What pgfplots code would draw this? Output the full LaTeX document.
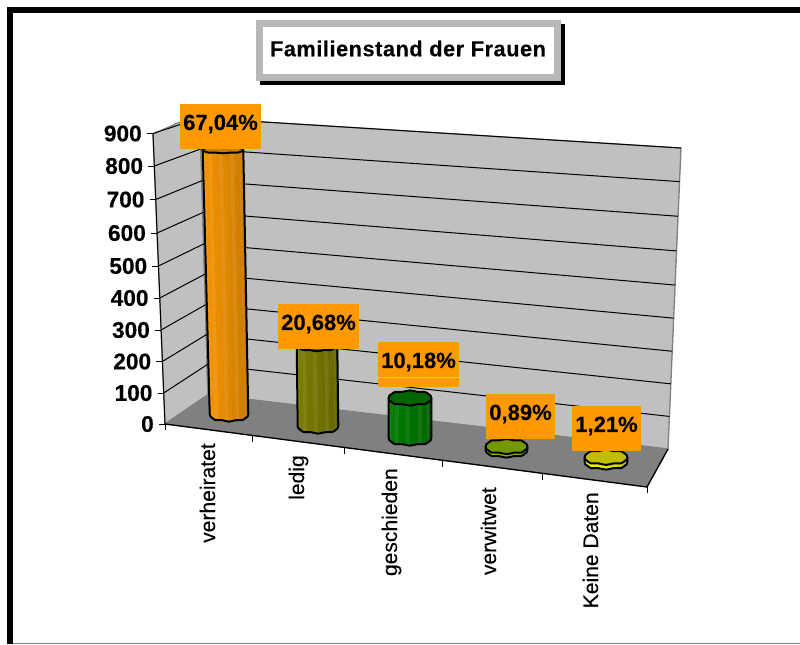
\documentclass[border=0pt]{standalone}
\usepackage{fontspec}
\setmainfont{Liberation Sans}
\usepackage{pgfplots}
\pgfplotsset{compat=1.18}
\definecolor{wall}{HTML}{C0C0C0}
\definecolor{floorc}{HTML}{808080}
\definecolor{lab}{HTML}{FF9900}
\definecolor{titleg}{HTML}{B8B8B8}
\definecolor{side1}{HTML}{FF9900}\definecolor{top1}{HTML}{CC7A00}
\definecolor{side2}{HTML}{808000}\definecolor{top2}{HTML}{666600}
\definecolor{side3}{HTML}{008000}\definecolor{top3}{HTML}{006600}
\definecolor{side4}{HTML}{99CC00}\definecolor{top4}{HTML}{739900}
\definecolor{side5}{HTML}{FFFF00}\definecolor{top5}{HTML}{BFBF00}
% one pixel = 0.75pt; the axis runs in pixel coordinates of the reference
\newcommand\ptop[1]{%
  \pgfmathsetmacro\px{\cxt+\rxt*cos(#1)*(1+0.015*cos(8*(#1)))}%
  \pgfmathsetmacro\py{\yt+\hgt*sin(#1)/pow(abs(sin(#1))+0.001,0.35)*(1+0.09*cos(8*(#1)))}}
\newcommand\pbot[1]{%
  \pgfmathsetmacro\px{\cxb+\rxb*cos(#1)*(1+0.015*cos(8*(#1)))}%
  \pgfmathsetmacro\py{\yb+\hgb*sin(#1)/pow(abs(sin(#1))+0.001,0.35)*(1+0.09*cos(8*(#1)))}}
% value, bottom left x, bottom right x, bottom centre y, bottom half height,
% top left x, top right x, top half height, colour index
\newcommand\cyl[9]{%
  \pgfmathsetmacro\cxb{(#2+#3)/2}\pgfmathsetmacro\rxb{(#3-#2)/2}%
  \pgfmathsetmacro\cxt{(#6+#7)/2}\pgfmathsetmacro\rxt{(#7-#6)/2}%
  \def\yb{#4}\def\hgb{#5}\def\hgt{#8}%
  \pgfmathsetmacro\yt{#4-0.315*#1}%
  \pgfplotsforeachungrouped \i in {0,...,15}{%
    \pgfmathsetmacro\anga{180-11.25*\i}\pgfmathsetmacro\angb{\anga-11.25}%
    \pgfmathtruncatemacro\pc{100-22*\i/15}%
    \pgfmathtruncatemacro\wh{100-7*(mod(\i,3)==1)}%
    \def\cl{}%
    \ptop{\anga}\edef\cl{\cl(\px,\py)}\ptop{\angb}\edef\cl{\cl(\px,\py)}%
    \pbot{\angb}\edef\cl{\cl(\px,\py)}\pbot{\anga}\edef\cl{\cl(\px,\py)}%
    \edef\tmp{\noexpand\addplot[fill=side#9!\pc!black!\wh!white,draw=side#9!\pc!black!\wh!white,line width=0.2pt] coordinates {\cl} -- cycle;}\tmp
  }%
  \def\cl{}%
  \ptop{180}\edef\cl{\cl(\px,\py)}%
  \pgfplotsforeachungrouped \i in {0,...,16}{%
    \pgfmathsetmacro\anga{180-11.25*\i}\pbot{\anga}\edef\cl{\cl(\px,\py)}}%
  \ptop{0}\edef\cl{\cl(\px,\py)}%
  \edef\tmp{\noexpand\addplot[draw=black,line width=1.5pt,line join=round] coordinates {\cl};}\tmp
  \def\cl{}%
  \pgfplotsforeachungrouped \i in {0,...,31}{%
    \pgfmathsetmacro\anga{11.25*\i}\ptop{\anga}\edef\cl{\cl(\px,\py)}}%
  \edef\tmp{\noexpand\addplot[fill=top#9,draw=black,line width=1.5pt,line join=round] coordinates {\cl} -- cycle;}\tmp
}
% gridline and tick on the left front edge at pixel height #1, label #2
\newcommand\gl[2]{%
  \pgfmathsetmacro\f{(424.5-#1)/291}%
  \pgfmathsetmacro\xa{165-12*\f}\pgfmathsetmacro\xt{\xa-6}\pgfmathsetmacro\xl{\xa-11}%
  \pgfmathsetmacro\xb{208-8*\f}\pgfmathsetmacro\yc{394.6-276.6*\f}%
  \pgfmathsetmacro\xc{668+13*\f}\pgfmathsetmacro\yd{449-301*\f}%
  \edef\tmp{\noexpand\addplot[draw=black,line width=0.75pt] coordinates {(\xa,#1)(\xb,\yc)(\xc,\yd)};
    \noexpand\addplot[draw=black,line width=0.75pt] coordinates {(\xt,#1)(\xa,#1)};
    \noexpand\node[anchor=east,inner sep=0pt,font=\noexpand\fontsize{17}{17}\noexpand\selectfont\noexpand\bfseries\noexpand\addfontfeature{FakeBold=0.3}] at (axis cs:\xl,#1) {#2};}\tmp
}
% tick on the front floor edge
\newcommand\xtk[3]{\addplot[draw=black,line width=0.75pt] coordinates {(#1,#2)(#1,#3)};}
\newcommand\lb[5]{%
  \addplot[fill=lab,draw=none] coordinates {(#1,#3)(#2,#3)(#2,#4)(#1,#4)} -- cycle;
  \pgfmathsetmacro\mx{(#1+#2)/2}\pgfmathsetmacro\my{(#3+#4)/2-2.5}%
  \edef\tmp{\noexpand\node[inner sep=0pt,font=\noexpand\fontsize{16.5}{16.5}\noexpand\selectfont\noexpand\bfseries\noexpand\addfontfeature{FakeBold=0.3}] at (axis cs:\mx,\my) {#5};}\tmp
}
\newcommand\catl[3]{\node[rotate=90,anchor=base east,inner sep=0pt,font=\fontsize{15.8}{15.8}\selectfont\addfontfeature{FakeBold=0.1}] at (axis cs:#1,#2) {#3};}
\begin{document}
\begin{tikzpicture}
\path[use as bounding box] (0,0) rectangle (600pt,483pt);
\begin{axis}[
  at={(0,0)},anchor=south west,scale only axis,width=600pt,height=483pt,
  xmin=0,xmax=800,ymin=0,ymax=644,y dir=reverse,hide axis,clip=false]
% frame
\addplot[fill=black,draw=none] coordinates {(7,7)(800,7)(800,13)(7,13)} -- cycle;
\addplot[fill=black,draw=none] coordinates {(7,7)(13,7)(13,644)(7,644)} -- cycle;
\addplot[draw=gray,line width=0.75pt] coordinates {(13,643.5)(800,643.5)};
% title
\addplot[fill=black,draw=none] coordinates {(260,24)(565,24)(565,85)(260,85)} -- cycle;
\addplot[fill=titleg,draw=none] coordinates {(256,20)(561,20)(561,81)(256,81)} -- cycle;
\addplot[fill=white,draw=none] coordinates {(263,27)(554,27)(554,74)(263,74)} -- cycle;
\node[inner sep=0pt,font=\fontsize{16.3}{16.3}\selectfont\bfseries\addfontfeature{LetterSpace=2.5,FakeBold=0.3}] at (axis cs:408,48.5) {Familienstand der Frauen};
% walls and floor
\addplot[fill=wall,draw=floorc,line width=1pt] coordinates {(153,134)(180,122)(200,118)(208,394.6)(165,424)} -- cycle;
\addplot[fill=wall,draw=floorc,line width=1pt] coordinates {(200,118)(681,148)(668,449)(208,394.6)} -- cycle;
\addplot[fill=floorc,draw=floorc,line width=0.5pt] coordinates {(165,424)(208,394.6)(668,449)(647,487)} -- cycle;
% gridlines, value ticks and their labels
\gl{393}{100}\gl{361.5}{200}\gl{330}{300}\gl{298}{400}\gl{266}{500}
\gl{233}{600}\gl{199.5}{700}\gl{166}{800}\gl{133.5}{900}
\addplot[draw=black,line width=0.75pt] coordinates {(153,134)(165,424)};
\node[anchor=east,inner sep=0pt,font=\fontsize{17}{17}\selectfont\bfseries\addfontfeature{FakeBold=0.3}] at (axis cs:154,424) {0};
\addplot[draw=black,line width=0.75pt] coordinates {(159,424.5)(165,424.5)};
% floor edges
\addplot[draw=black,line width=1pt] coordinates {(165,424)(647,487)(668,449)};
\xtk{252}{436}{442}\xtk{344}{448}{454}\xtk{442}{461}{467}\xtk{542}{474}{480}\xtk{647}{487}{493}\xtk{165}{424}{430}
% cylinders
\cyl{838}{210}{248}{414}{7}{203}{243}{3}{1}
\cyl{258}{298}{338}{426}{7}{297}{337}{6}{2}
\cyl{127}{389}{431}{438}{7}{389}{431}{7}{3}
\cyl{11}{486}{527}{450}{7}{486}{527}{7}{4}
\cyl{15}{585}{627}{462}{7}{585}{627}{7}{5}
% data labels
\lb{180}{261}{104}{149}{67,04\%}
\lb{278}{359}{304}{349}{20,68\%}
\lb{378}{459}{342}{387}{10,18\%}
\addplot[draw=lab!60!white,line width=0.5pt] coordinates {(378,377.5)(459,377.5)};
\lb{486}{555}{394}{439}{0,89\%}
\lb{572}{641}{406}{451}{1,21\%}
% category labels
\catl{215}{443}{verheiratet}
\catl{304}{455}{ledig}
\catl{397}{468}{geschieden}
\catl{496}{487}{verwitwet}
\catl{598}{492}{Keine Daten}
\end{axis}
\end{tikzpicture}
\end{document}
